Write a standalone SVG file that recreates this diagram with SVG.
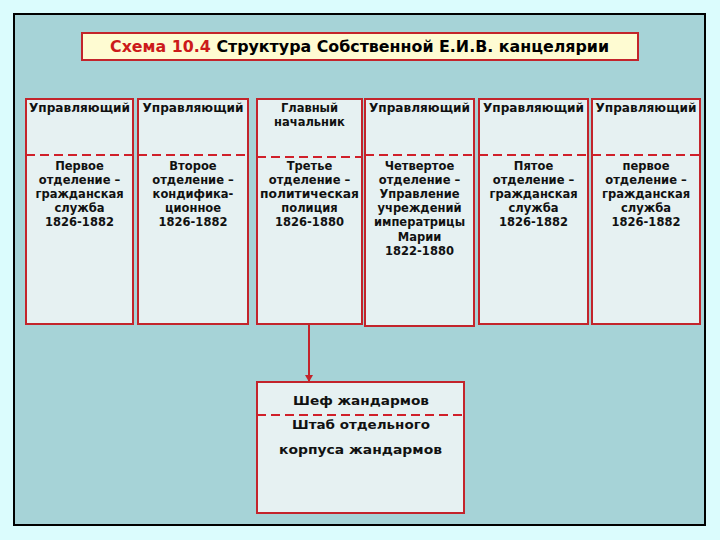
<svg xmlns="http://www.w3.org/2000/svg" width="720" height="540" viewBox="0 0 720 540">
<defs>
<style>
.box{fill:#e6f1f2;stroke:#c3242b;stroke-width:2}
.dash{stroke:#d0202a;stroke-width:2;stroke-dasharray:9,5;fill:none}
.t{font-family:"DejaVu Sans","Liberation Sans",sans-serif;font-weight:bold;font-size:11.5px;fill:#111;text-anchor:middle}
.b{font-family:"DejaVu Sans","Liberation Sans",sans-serif;font-weight:bold;font-size:13px;fill:#111;text-anchor:middle}
</style>
<marker id="ah" markerWidth="8" markerHeight="8" refX="6" refY="4" orient="auto" markerUnits="userSpaceOnUse">
<path d="M0,0 L7,4 L0,8 Z" fill="#c3242b"/>
</marker>
</defs>
<rect x="0" y="0" width="720" height="540" fill="#dbfcfd"/>
<rect x="14" y="14" width="691" height="511" fill="#a6d3d7" stroke="#000" stroke-width="2"/>

<g id="title">
<rect x="82" y="33" width="556" height="27" fill="#fefbd2" stroke="#c3242b" stroke-width="2"/>
<text x="110" y="52" font-family="DejaVu Sans,'Liberation Sans',sans-serif" font-weight="bold" font-size="15.5" textLength="499" lengthAdjust="spacingAndGlyphs"><tspan fill="#cc1a1a">Схема 10.4</tspan><tspan fill="#000"> Структура Собственной Е.И.В. канцелярии</tspan></text>
</g>

<g id="connectors">
<line x1="309" y1="324" x2="309" y2="381" stroke="#c3242b" stroke-width="2" marker-end="url(#ah)"/>
</g>

<g id="n1">
<rect class="box" x="26" y="99" width="107" height="225"/>
<line class="dash" x1="26" y1="155" x2="133" y2="155"/>
<text class="t" x="79.5" y="112" textLength="101" lengthAdjust="spacingAndGlyphs">Управляющий</text>
<text class="t" x="79.5" y="169.5">Первое</text>
<text class="t" x="79.5" y="183.7">отделение –</text>
<text class="t" x="79.5" y="198">гражданская</text>
<text class="t" x="79.5" y="212.2">служба</text>
<text class="t" x="79.5" y="226.4">1826-1882</text>
</g>

<g id="n2">
<rect class="box" x="138" y="99" width="110" height="225"/>
<line class="dash" x1="138" y1="155" x2="248" y2="155"/>
<text class="t" x="193" y="112" textLength="101" lengthAdjust="spacingAndGlyphs">Управляющий</text>
<text class="t" x="193" y="169.5">Второе</text>
<text class="t" x="193" y="183.7">отделение –</text>
<text class="t" x="193" y="198">кондифика-</text>
<text class="t" x="193" y="212.2">ционное</text>
<text class="t" x="193" y="226.4">1826-1882</text>
</g>

<g id="n3">
<rect class="box" x="257" y="99" width="105" height="225"/>
<line class="dash" x1="257" y1="157" x2="362" y2="157"/>
<text class="t" x="309.5" y="112">Главный</text>
<text class="t" x="309.5" y="126">начальник</text>
<text class="t" x="309.5" y="169.5">Третье</text>
<text class="t" x="309.5" y="183.7">отделение –</text>
<text class="t" x="309.5" y="198" textLength="99" lengthAdjust="spacingAndGlyphs">политическая</text>
<text class="t" x="309.5" y="212.2">полиция</text>
<text class="t" x="309.5" y="226.4">1826-1880</text>
</g>

<g id="n4">
<rect class="box" x="365" y="99" width="109" height="227"/>
<line class="dash" x1="365" y1="155" x2="474" y2="155"/>
<text class="t" x="419.5" y="112" textLength="101" lengthAdjust="spacingAndGlyphs">Управляющий</text>
<text class="t" x="419.5" y="169.5">Четвертое</text>
<text class="t" x="419.5" y="183.7">отделение –</text>
<text class="t" x="419.5" y="198">Управление</text>
<text class="t" x="419.5" y="212.2">учреждений</text>
<text class="t" x="419.5" y="226.4">императрицы</text>
<text class="t" x="419.5" y="240.8">Марии</text>
<text class="t" x="419.5" y="255">1822-1880</text>
</g>

<g id="n5">
<rect class="box" x="479" y="99" width="109" height="225"/>
<line class="dash" x1="479" y1="155" x2="588" y2="155"/>
<text class="t" x="533.5" y="112" textLength="101" lengthAdjust="spacingAndGlyphs">Управляющий</text>
<text class="t" x="533.5" y="169.5">Пятое</text>
<text class="t" x="533.5" y="183.7">отделение –</text>
<text class="t" x="533.5" y="198">гражданская</text>
<text class="t" x="533.5" y="212.2">служба</text>
<text class="t" x="533.5" y="226.4">1826-1882</text>
</g>

<g id="n6">
<rect class="box" x="592" y="99" width="108" height="225"/>
<line class="dash" x1="592" y1="155" x2="700" y2="155"/>
<text class="t" x="646" y="112" textLength="101" lengthAdjust="spacingAndGlyphs">Управляющий</text>
<text class="t" x="646" y="169.5">первое</text>
<text class="t" x="646" y="183.7">отделение –</text>
<text class="t" x="646" y="198">гражданская</text>
<text class="t" x="646" y="212.2">служба</text>
<text class="t" x="646" y="226.4">1826-1882</text>
</g>

<g id="n7">
<rect class="box" x="257" y="382" width="207" height="131"/>
<line class="dash" x1="257" y1="415" x2="464" y2="415"/>
<text class="b" x="361" y="404.5" textLength="136" lengthAdjust="spacingAndGlyphs">Шеф жандармов</text>
<text class="b" x="361" y="429" textLength="138" lengthAdjust="spacingAndGlyphs">Штаб отдельного</text>
<text class="b" x="360.5" y="454" textLength="163" lengthAdjust="spacingAndGlyphs">корпуса жандармов</text>
</g>
</svg>
